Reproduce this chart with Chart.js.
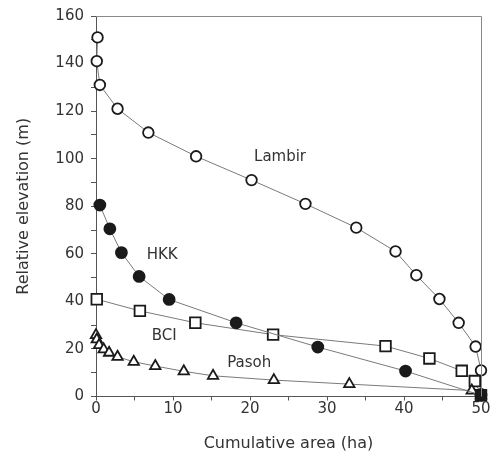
<!DOCTYPE html>
<html>
<head>
<meta charset="utf-8">
<script src="https://cdn.jsdelivr.net/npm/chart.js@4/dist/chart.umd.min.js"></script>
<style>
  html, body { margin: 0; padding: 0; background: #fff; }
  #wrap { width: 494px; height: 453px; position: relative; }
</style>
</head>
<body>
<div id="wrap"><canvas id="c" width="494" height="453"></canvas></div>
<script>
// Cumulative area (ha) and relative elevation (m) for each plot
const lambirArea = [0.2, 0.1, 0.5, 2.8, 6.8, 13.0, 20.2, 27.2, 33.8, 38.9, 41.6, 44.6, 47.1, 49.3, 50.0, 50.0];
const lambirElev = [151, 141, 131, 121, 111, 101, 91, 81, 71, 61, 51, 41, 31, 21, 11, 1];

const hkkArea = [0.5, 1.8, 3.3, 5.6, 9.5, 18.2, 28.8, 40.2, 50.0];
const hkkElev = [80.5, 70.5, 60.5, 50.5, 40.8, 31, 20.8, 10.7, 0.5];

const bciArea = [0.1, 5.7, 12.9, 23.0, 37.6, 43.3, 47.5, 49.2, 50.0];
const bciElev = [40.9, 36, 31, 26, 21.2, 16, 10.8, 6.5, 0.5];

const pasohArea = [0.0, 0.1, 0.4, 1.0, 1.7, 2.8, 4.9, 7.7, 11.4, 15.2, 23.1, 32.9, 48.8, 50.0];
const pasohElev = [25.8, 24, 21.6, 19.8, 18.4, 16.7, 14.6, 12.8, 10.6, 8.7, 6.9, 5.2, 2.5, 0.5];

const seriesNames = ["Lambir", "HKK", "BCI", "Pasoh"];
// label anchor positions in data units (area, elevation)
const labelArea = [23.9, 8.6, 8.85, 19.9];
const labelElev = [100.5, 59.4, 25.4, 14.2];

const xTitle = "Cumulative area (ha)";
const yTitle = "Relative elevation (m)";

function pts(xs, ys) { return xs.map((x, i) => ({x: x, y: ys[i]})); }

const FONT = "'DejaVu Sans', sans-serif";
const TXT = "#333";

const boxPlugin = {
  id: 'box',
  afterDraw(chart) {
    const {ctx, chartArea: a} = chart;
    ctx.save();
    ctx.strokeStyle = '#8a8a8a';
    ctx.lineWidth = 1;
    ctx.beginPath();
    ctx.moveTo(a.left, a.top + 0.5);
    ctx.lineTo(a.right + 0.5, a.top + 0.5);
    ctx.lineTo(a.right + 0.5, a.bottom);
    ctx.stroke();
    ctx.restore();
  }
};

const labelPlugin = {
  id: 'seriesLabels',
  afterDatasetsDraw(chart) {
    const {ctx, scales} = chart;
    ctx.save();
    ctx.font = "15px " + FONT;
    ctx.fillStyle = TXT;
    ctx.textAlign = 'center';
    ctx.textBaseline = 'middle';
    seriesNames.forEach((n, i) => {
      ctx.fillText(n, scales.x.getPixelForValue(labelArea[i]), scales.y.getPixelForValue(labelElev[i]));
    });
    ctx.restore();
  }
};

const common = {
  showLine: true,
  borderColor: '#7a7a7a',
  borderWidth: 1,
  pointBorderColor: '#1a1a1a',
  pointBorderWidth: 1.8,
  clip: false,
  tension: 0
};

new Chart(document.getElementById('c'), {
  type: 'scatter',
  data: {
    datasets: [
      Object.assign({}, common, {label: 'HKK', data: pts(hkkArea, hkkElev), pointStyle: 'circle', pointRadius: 5.5, pointBackgroundColor: '#1a1a1a'}),
      Object.assign({}, common, {label: 'Pasoh', data: pts(pasohArea, pasohElev), pointStyle: 'triangle', pointRadius: 6, pointBackgroundColor: '#fff'}),
      Object.assign({}, common, {label: 'BCI', data: pts(bciArea, bciElev), pointStyle: 'rect', pointRadius: 7.5, pointBackgroundColor: '#fff'}),
      Object.assign({}, common, {label: 'Lambir', data: pts(lambirArea, lambirElev), pointStyle: 'circle', pointRadius: 5.3, pointBackgroundColor: '#fff'})
    ]
  },
  options: {
    responsive: false,
    animation: false,
    layout: { padding: { top: 15, right: 13, left: 0, bottom: 0 } },
    plugins: { legend: { display: false }, tooltip: { enabled: false } },
    scales: {
      x: {
        type: 'linear', min: 0, max: 50,
        afterFit(s) { s.height = 56.5; },
        ticks: { stepSize: 5, color: TXT, font: { family: FONT, size: 15 }, padding: 0,
          callback: v => (v % 10 === 0 ? String(v) : '') , maxRotation: 0, autoSkip: false },
        grid: { drawOnChartArea: false, color: '#555', tickLength: 4, tickColor: '#555' },
        border: { color: '#555', width: 1 },
        title: { display: true, text: xTitle, color: TXT, font: { family: FONT, size: 16 }, padding: { top: 0, bottom: 0 } }
      },
      y: {
        type: 'linear', min: 0, max: 160,
        afterFit(s) { s.width = 96; },
        ticks: { stepSize: 10, color: TXT, font: { family: FONT, size: 15 }, padding: 7,
          callback: v => (v % 20 === 0 ? String(v) : ''), autoSkip: false },
        grid: { drawOnChartArea: false, color: '#555', tickLength: 5, tickColor: '#555' },
        border: { color: '#555', width: 1 },
        title: { display: true, text: yTitle, color: TXT, font: { family: FONT, size: 16 }, padding: { top: 14, bottom: 0 } }
      }
    }
  },
  plugins: [boxPlugin, labelPlugin]
});
</script>
</body>
</html>
